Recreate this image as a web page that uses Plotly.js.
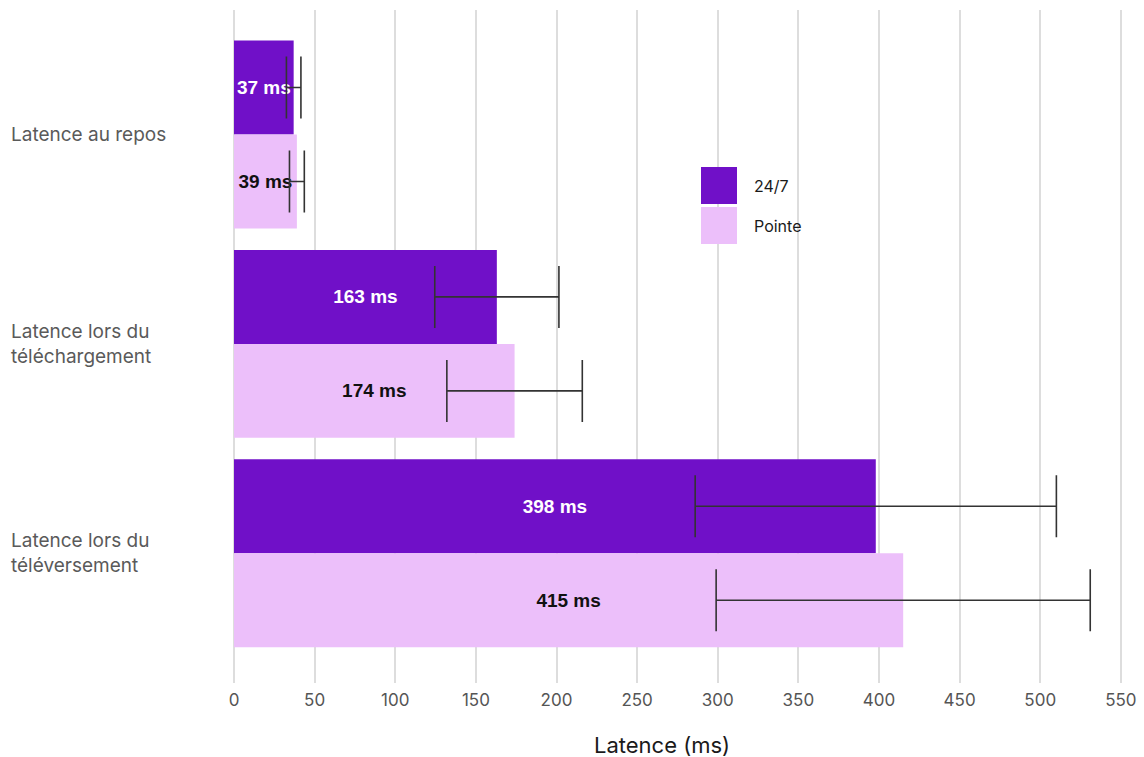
<!DOCTYPE html>
<html>
<head>
<meta charset="utf-8">
<script src="https://cdn.plot.ly/plotly-3.0.1.min.js"></script>
<style>html,body{margin:0;padding:0;background:#fff;}#chart{width:1144px;height:757px;}</style>
</head>
<body>
<div id="chart"></div>
<script>
const categories = ["Latence au repos", "Latence lors du<br>téléchargement", "Latence lors du<br>téléversement"];
const seriesNames = ["24/7", "Pointe"];
const values247 = [37, 163, 398];
const valuesPointe = [39, 174, 415];
const err247 = [4.5, 38.5, 112];
const errPointe = [4.6, 42, 116];
const labels247 = ["37 ms", "163 ms", "398 ms"];
const labelsPointe = ["39 ms", "174 ms", "415 ms"];
const xTicks = [0, 50, 100, 150, 200, 250, 300, 350, 400, 450, 500, 550];
const xTitle = "Latence (ms)";

const colors = ["#7010C8", "#ECBFFA"];
const textColors = ["#ffffff", "#111111"];

function barTrace(name, vals, errs, labels, i) {
  return {
    type: "bar", orientation: "h", name: name,
    y: categories, x: vals, text: labels,
    textposition: "inside", insidetextanchor: "middle", constraintext: "none", textangle: 0,
    textfont: {family: "Liberation Sans, Arial, sans-serif", size: 19, color: textColors[i], weight: "bold"},
    marker: {color: colors[i], line: {width: 0}},
    error_x: {type: "data", array: errs, visible: true, color: "#333333", thickness: 1.6, width: 31},
    hoverinfo: "skip", showlegend: false
  };
}

const data = [
  barTrace(seriesNames[0], values247, err247, labels247, 0),
  barTrace(seriesNames[1], valuesPointe, errPointe, labelsPointe, 1)
];

const W = 1144, H = 757, ml = 234, mr = 7, mt = 10, mb = 74;
const pw = W - ml - mr, ph = H - mt - mb;
const px = v => (v - ml) / pw;
const py = v => 1 - (v - mt) / ph;
const FONT = "Inter, Roboto, sans-serif";

const annotations = categories.map(c => ({
  xref: "paper", yref: "y", x: 0, xshift: -225, y: c,
  xanchor: "left", yanchor: "middle",
  text: c, showarrow: false, align: "left",
  font: {family: FONT, size: 19, color: "#5a5a5a"}
}));
seriesNames.forEach((n, i) => {
  annotations.push({
    xref: "paper", yref: "paper", x: px(752), y: py(186 + i * 40), xanchor: "left", yanchor: "middle",
    text: n, showarrow: false, font: {family: FONT, size: 16, color: "#1a1a1a"}
  });
});
annotations.push({
  xref: "paper", yref: "paper", x: px(662), y: py(745), xanchor: "center", yanchor: "middle",
  text: xTitle, showarrow: false, font: {family: FONT, size: 22, color: "#1a1a1a"}
});
const shapes = seriesNames.map((n, i) => ({
  type: "rect", xref: "paper", yref: "paper",
  x0: px(701), x1: px(737), y0: py(167 + i * 40), y1: py(204 + i * 40),
  fillcolor: colors[i], line: {width: 0}
}));

const layout = {
  width: W, height: H,
  margin: {l: ml, r: mr, t: mt, b: mb},
  paper_bgcolor: "#ffffff", plot_bgcolor: "#ffffff",
  barmode: "group", bargap: 0.102, bargroupgap: 0,
  showlegend: false,
  xaxis: {
    range: [0, 560], tickvals: xTicks, ticktext: xTicks.map(String),
    showgrid: true, gridcolor: "#dddddd", gridwidth: 2,
    zeroline: true, zerolinecolor: "#dddddd", zerolinewidth: 2,
    showline: false, ticks: "", ticklabelstandoff: 5,
    tickfont: {family: FONT, size: 17, color: "#555555"},
    fixedrange: true
  },
  yaxis: {
    type: "category", range: [2.62, -0.595],
    showticklabels: false, showgrid: false, zeroline: false, showline: false, ticks: "",
    fixedrange: true
  },
  annotations: annotations,
  shapes: shapes,
  font: {family: FONT}
};

Plotly.newPlot("chart", data, layout, {displayModeBar: false, staticPlot: true});
</script>
</body>
</html>
